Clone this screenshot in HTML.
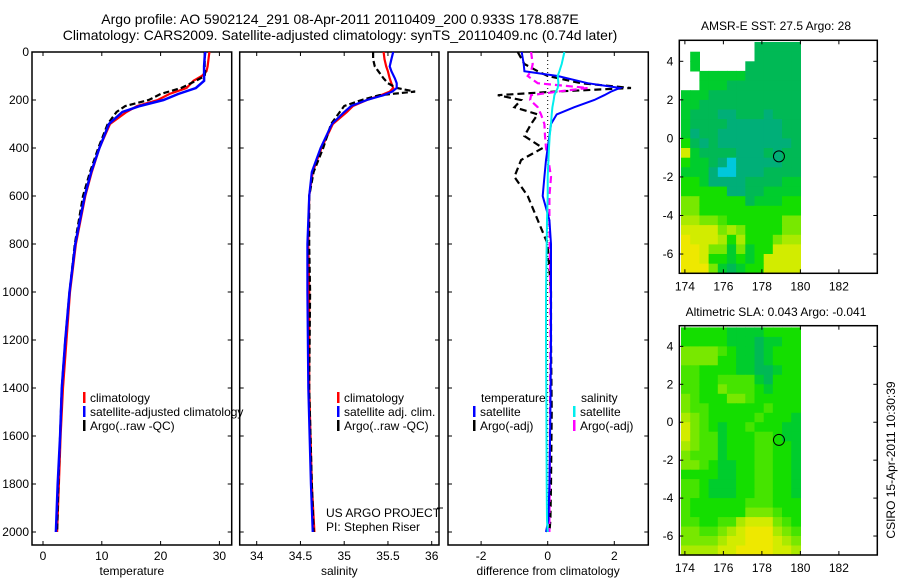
<!DOCTYPE html>
<html><head><meta charset="utf-8"><style>
body{margin:0;background:#fff;}
svg{display:block;font-family:"Liberation Sans",sans-serif;}
</style></head><body>
<svg id="fig" width="900" height="580" xmlns="http://www.w3.org/2000/svg">
<text x="340" y="24" font-size="14" text-anchor="middle">Argo profile: AO 5902124_291 08-Apr-2011 20110409_200 0.933S 178.887E</text>
<text x="340" y="40" font-size="14" text-anchor="middle">Climatology: CARS2009. Satellite-adjusted climatology: synTS_20110409.nc (0.74d later)</text>
<text x="776" y="30" font-size="12" text-anchor="middle">AMSR-E SST: 27.5 Argo: 28</text>
<text x="776" y="316" font-size="12" text-anchor="middle">Altimetric SLA: 0.043 Argo: -0.041</text>
<text transform="translate(895,460) rotate(-90)" font-size="12" text-anchor="middle">CSIRO 15-Apr-2011 10:30:39</text>
<text x="326" y="517" font-size="12">US ARGO PROJECT</text>
<text x="326" y="531" font-size="12">PI: Stephen Riser</text>
</svg>
<script>
// ---- depth axis ----
const depthTicks=[0,200,400,600,800,1000,1200,1400,1600,1800,2000];
// ---- temperature panel ----
const tDepth=[0,20,60,80,100,120,150,175,200,225,250,300,400,500,600,800,1000,1200,1400,1600,1800,2000];
const tClim=[28.3,28.2,28.0,27.8,27.0,25.6,24.4,21.5,19.5,16,14.2,11.4,9.6,8.3,7.2,5.6,4.6,4.0,3.4,3.0,2.7,2.4];
const tSat=[27.6,27.5,27.4,27.4,27.4,27.4,26.0,23.0,20.5,16.5,13.5,11.2,9.6,8.2,7.1,5.5,4.5,3.8,3.2,2.9,2.5,2.2];
const tArgo=[27.5,27.5,27.5,27.6,27.5,26.0,23.5,20.0,18.0,14.0,12.5,11.0,9.4,8.0,6.8,5.4,4.5,3.8,3.2,2.9,2.6,2.4];
const tTicks=[0,10,20,30];
// ---- salinity panel ----
const sDepth=[0,30,60,80,110,130,150,165,180,200,225,250,300,400,500,600,800,1000,1400,1800,2000];
const sClim=[35.45,35.46,35.48,35.5,35.52,35.54,35.56,35.52,35.42,35.26,35.1,35.03,34.87,34.74,34.64,34.6,34.59,34.6,34.6,34.63,34.66];
const sSat=[35.56,35.54,35.52,35.54,35.58,35.6,35.6,35.55,35.45,35.26,35.08,35.0,34.86,34.73,34.63,34.6,34.58,34.58,34.59,34.62,34.64];
const sArgo=[35.33,35.33,35.35,35.39,35.45,35.5,35.6,35.81,35.4,35.2,35.0,34.95,34.85,34.76,34.65,34.6,34.6,34.61,34.6,34.63,34.65];
const sTicks=[34,34.5,35,35.5,36];
// ---- difference panel ----
const dDepth=[0,50,80,100,130,150,165,180,200,230,260,300,350,400,450,520,600,700,800,1000,1200,1500,1800,1950,2000];
const dTSat=[-0.78,-0.72,-0.7,0.3,1.2,2.17,1.9,1.7,1.4,0.8,0.27,0.1,0.05,0,-0.05,-0.1,-0.15,0.05,0.1,0.1,0.1,0.08,0.05,0.02,-0.05];
const dTArgo=[-0.9,-0.7,-0.3,0,1.0,2.5,0.2,-1.5,-0.8,-1.0,-0.3,-0.5,-0.7,-0.15,-0.8,-1.0,-0.6,-0.3,0,0.1,0.1,0.12,0.1,0.08,0.05];
const dSSat=[0.5,0.42,0.35,0.3,0.32,0.3,0.25,0.2,0.18,0.14,0.12,0.1,0.06,0.04,0.02,0,0,-0.02,-0.03,-0.05,-0.05,-0.04,-0.03,-0.02,0];
const dSArgo=[-0.5,-0.45,-0.5,-0.6,-0.3,1.2,0.3,-0.5,-0.53,-0.3,-0.2,-0.1,-0.08,-0.05,0.02,0.1,0.05,0.05,0.06,0.08,0.08,0.07,0.06,0.05,0.05];
const dTicks=[-2,0,2];
// ---- maps ----
const lonTicks=[174,176,178,180,182];
const latTicks=[4,2,0,-2,-4,-6];
const argoLon=178.887, argoLat=-0.933;
const sstGrid=["........22222",".3......22222",".3.....222222","..33333222222","..33322222222","3332222222222","3322222222222","3222112221222","3222211111122","3122111111122","4212111111112","8322221112122","4332101111122","3331001112222","4431111222233","4444411223333","6644444233344","6644444444444","7766544444466","8888676444466","9888747444677","9986636344888","9984434348888","9996323448888"];
const slaGrid=["4444433334444","4444433323344","6666543323444","6666443323444","5544443322344","5544555532444","5544655543444","6544466544444","6554444445444","7654444454443","8654344544433","8655344455433","7655344455443","6555344455443","6654334455443","4444334455443","5543334455443","5543334455443","5444444555444","5444444666544","5544557888654","6655678999765","6666788999876","7777889999887"];
const palette=["rgb(0,200,220)","rgb(0,175,120)","rgb(0,185,85)","rgb(0,205,45)","rgb(20,222,0)","rgb(70,228,0)","rgb(120,232,0)","rgb(170,234,0)","rgb(210,236,0)","rgb(238,232,0)"];

const svg=document.getElementById('fig');
const NS='http://www.w3.org/2000/svg';
function mk(tag,attrs,parent){const e=document.createElementNS(NS,tag);for(const k in attrs)e.setAttribute(k,attrs[k]);(parent||svg).appendChild(e);return e;}
const y0=52,yScale=0.24;
const yD=d=>y0+d*yScale;

function panel(name,left,right,x,xTicks,xLabel,showY){
  const g=mk('g',{});
  
  
  const box=mk('rect',{x:left,y:52,width:right-left,height:493,fill:'none',stroke:'#000','stroke-width':1.5},g);
  
  
  depthTicks.forEach(d=>{
    mk('line',{x1:left,x2:left+4,y1:yD(d),y2:yD(d),stroke:'#000'},g);
    mk('line',{x1:right-4,x2:right,y1:yD(d),y2:yD(d),stroke:'#000'},g);
    if(showY){const t=mk('text',{x:left-3,y:yD(d)+4,'font-size':12,'text-anchor':'end'},g);t.textContent=d;
      
      }
  });
  xTicks.forEach(v=>{
    const px=x(v);
    mk('line',{x1:px,x2:px,y1:545,y2:541,stroke:'#000'},g);
    mk('line',{x1:px,x2:px,y1:52,y2:56,stroke:'#000'},g);
    const t=mk('text',{x:px,y:560,'font-size':12,'text-anchor':'middle'},g);t.textContent=v;
    
    
  });
  const lab=mk('text',{x:(left+right)/2,y:575,'font-size':12,'text-anchor':'middle'},g);lab.textContent=xLabel;
  
  
  return g;
}
function line(g,depths,vals,x,color,dash,w,nm){
  const pts=depths.map((d,i)=>x(vals[i]).toFixed(1)+','+yD(d).toFixed(1)).join(' ');
  const p=mk('polyline',{points:pts,fill:'none',stroke:color,'stroke-width':w||2.2},g);
  if(dash)p.setAttribute('stroke-dasharray',dash);
  
  
}
function legend(g,x,y,color,text,nm){
  mk('rect',{x:x,y:y-10,width:2.5,height:11,fill:color},g);
  const t=mk('text',{x:x+7,y:y,'font-size':12},g);t.textContent=text;
  
  
}

// temperature
const xT=v=>43+v*5.88;
const g1=panel('temperature',32,231.7,xT,tTicks,'temperature',true);
line(g1,tDepth,tClim,xT,'#f00',null,2.2,'temp-climatology-line');
line(g1,tDepth,tArgo,xT,'#000','6,3',2.2,'temp-argo-line');
line(g1,tDepth,tSat,xT,'#00f',null,2.5,'temp-satellite-line');
legend(g1,83,402,'#f00','climatology','legend-climatology');
legend(g1,83,416,'#00f','satellite-adjusted climatology','legend-satellite');
legend(g1,83,430,'#000','Argo(..raw -QC)','legend-argo');

// salinity
const xS=v=>256.7+(v-34)*87.5;
const g2=panel('salinity',239.7,439,xS,sTicks,'salinity',false);
line(g2,sDepth,sClim,xS,'#f00',null,2.2,'sal-climatology-line');
line(g2,sDepth,sArgo,xS,'#000','6,3',2.2,'sal-argo-line');
line(g2,sDepth,sSat,xS,'#00f',null,2.2,'sal-satellite-line');
legend(g2,337,402,'#f00','climatology','legend-sal-climatology');
legend(g2,337,416,'#00f','satellite adj. clim.','legend-sal-satellite');
legend(g2,337,430,'#000','Argo(..raw -QC)','legend-sal-argo');
mk('line',{x1:437,x2:443,y1:508,y2:508,stroke:'#000'},g2);

// difference
const xDf=v=>547.7+v*33.3;
const g3=panel('difference',448,648.3,xDf,dTicks,'difference from climatology',false);
mk('line',{x1:547.7,x2:547.7,y1:52,y2:532,stroke:'#000','stroke-dasharray':'1,3'},g3);
line(g3,dDepth,dTArgo,xDf,'#000','7,4',2.2,'diff-temp-argo-line');
line(g3,dDepth,dSArgo,xDf,'#f0f','7,4',2.2,'diff-sal-argo-line');
line(g3,dDepth,dTSat,xDf,'#00f',null,2,'diff-temp-satellite-line');
line(g3,dDepth,dSSat,xDf,'#0ee',null,2,'diff-sal-satellite-line');
{const t=mk('text',{x:481,y:402,'font-size':12},g3);t.textContent='temperature';


const s=mk('text',{x:581,y:402,'font-size':12},g3);s.textContent='salinity';

}
legend(g3,473,416,'#00f','satellite','legend-diff-temp-satellite');
legend(g3,473,430,'#000','Argo(-adj)','legend-diff-temp-argo');
legend(g3,573,416,'#0ee','satellite','legend-diff-sal-satellite');
legend(g3,573,430,'#f0f','Argo(-adj)','legend-diff-sal-argo');

// maps
function map(name,top,bottom,grid){
  const g=mk('g',{});
  
  
  const left=679.3,right=877.3;
  const lon0=173.71,ppd=19.25;
  const lat0=(top-0)/1; // placeholder
  const latTop=5.09, ppdy=(bottom-top)/(5.09+7.0);
  const X=l=>left+(l-lon0)*ppd, Y=l=>top+(latTop-l)*ppdy;
  const cw=(180.0-173.8)/13;
  grid.forEach((row,r)=>{
    for(let c=0;c<row.length;c++){
      const ch=row[c]; if(ch==='.')continue;
      const la=5-r*0.5;
      const lo=173.8+c*cw;
      const rc=mk('rect',{x:X(lo).toFixed(1),y:Y(la).toFixed(1),width:(cw*ppd+0.6).toFixed(1),height:(0.5*ppdy+0.6).toFixed(1),fill:palette[+ch]},g);
      
      
    }
  });
  const b=mk('rect',{x:left,y:top,width:right-left,height:bottom-top,fill:'none',stroke:'#000','stroke-width':1.5},g);
  
  
  lonTicks.forEach(v=>{mk('line',{x1:X(v),x2:X(v),y1:bottom,y2:bottom-4,stroke:'#000'},g);mk('line',{x1:X(v),x2:X(v),y1:top,y2:top+4,stroke:'#000'},g);
    const t=mk('text',{x:X(v),y:bottom+17,'font-size':12,'text-anchor':'middle'},g);t.textContent=v;
    
    });
  latTicks.forEach(v=>{mk('line',{x1:left,x2:left+4,y1:Y(v),y2:Y(v),stroke:'#000'},g);mk('line',{x1:right-4,x2:right,y1:Y(v),y2:Y(v),stroke:'#000'},g);
    const t=mk('text',{x:left-6,y:Y(v)+4,'font-size':12,'text-anchor':'end'},g);t.textContent=v;
    
    });
  const c=mk('circle',{cx:X(argoLon),cy:Y(argoLat),r:5.5,fill:'none',stroke:'#000','stroke-width':1},g);
  
  
}
map('sst',40.3,273.3,sstGrid);
map('sla',325.7,555,slaGrid);
</script>
</body></html>
